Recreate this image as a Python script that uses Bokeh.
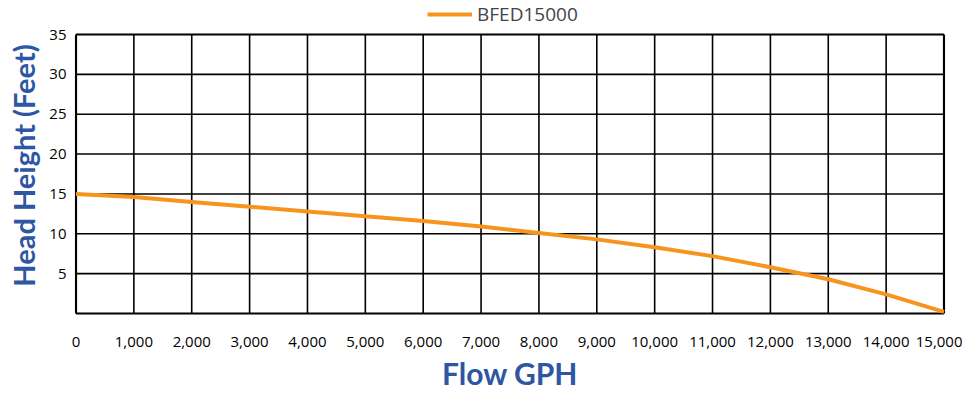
from bokeh.plotting import figure
from bokeh.models import FixedTicker, NumeralTickFormatter, Legend, LegendItem, Range1d
from bokeh.embed import file_html
from bokeh.resources import INLINE

flow = [0, 1000, 2000, 3000, 4000, 5000, 6000, 7000, 8000, 9000, 10000, 11000, 12000, 13000, 14000, 15000]
head = [15.0, 14.6, 14.0, 13.4, 12.8, 12.2, 11.6, 10.9, 10.1, 9.3, 8.3, 7.2, 5.8, 4.3, 2.4, 0.2]
series_name = "BFED15000"
x_title = "Flow GPH"
y_title = "Head Height (Feet)"
x_ticks = list(range(0, 15001, 1000))
y_ticks = [5, 10, 15, 20, 25, 30, 35]
x_min, x_max = 0, 15000
y_min, y_max = 0, 35

TITLE_COLOR = "#2E56A3"
LINE_COLOR = "#F7941D"

# data box is 868 x 279 px; the frame extends a little around it (legend room above)
PX_X = (x_max - x_min) / 868
PX_Y = (y_max - y_min) / 279

p = figure(frame_width=871, frame_height=326, output_backend="svg", toolbar_location=None,
           x_range=Range1d(x_min - 1.5 * PX_X, x_max + 1.5 * PX_X),
           y_range=Range1d(y_min - 15 * PX_Y, y_max + 32 * PX_Y),
           min_border_left=74, min_border_right=17, min_border_top=2, min_border_bottom=60)
p.outline_line_color = None
p.xgrid.visible = False
p.ygrid.visible = False

# grid box drawn from tick values
inner_x = x_ticks[1:-1]
inner_y = y_ticks[:-1]
edge_x = [x_min, x_max]
edge_y = [y_min, y_max]
p.segment(x0=inner_x, y0=[y_min] * len(inner_x), x1=inner_x, y1=[y_max] * len(inner_x),
          line_color="black", line_width=1.6)
p.segment(x0=[x_min] * len(inner_y), y0=inner_y, x1=[x_max] * len(inner_y), y1=inner_y,
          line_color="black", line_width=1.6)
p.segment(x0=edge_x, y0=[y_min] * 2, x1=edge_x, y1=[y_max] * 2, line_color="black", line_width=2.2)
p.segment(x0=[x_min] * 2, y0=edge_y, x1=[x_max] * 2, y1=edge_y, line_color="black", line_width=2.2)

r = p.line(flow, head, line_color=LINE_COLOR, line_width=4)

p.xaxis.ticker = FixedTicker(ticks=x_ticks)
p.yaxis.ticker = FixedTicker(ticks=y_ticks)
p.xaxis.formatter = NumeralTickFormatter(format="0,0")

for ax in (p.xaxis, p.yaxis):
    ax.major_tick_line_color = None
    ax.minor_tick_line_color = None
    ax.major_tick_out = 0
    ax.major_tick_in = 0
    ax.minor_tick_out = 0
    ax.minor_tick_in = 0
    ax.axis_line_color = None
    ax.major_label_text_font = "Open Sans"
    ax.major_label_text_font_size = "15px"
    ax.major_label_text_color = "black"
    ax.axis_label_text_font = "Lato"
    ax.axis_label_text_font_style = "bold"
    ax.axis_label_text_color = TITLE_COLOR

p.xaxis.major_label_standoff = 8
p.yaxis.major_label_standoff = 8

p.xaxis.axis_label = x_title
p.xaxis.axis_label_text_font_size = "30px"
p.xaxis.axis_label_standoff = 5

p.yaxis.axis_label = y_title
p.yaxis.axis_label_text_font_size = "29px"
p.yaxis.axis_label_standoff = 5

legend = Legend(items=[LegendItem(label=series_name, renderers=[r])],
                orientation="horizontal", location=(353, 301),
                border_line_color=None, background_fill_alpha=0,
                label_text_font="Open Sans", label_text_font_size="19px",
                glyph_width=45, label_standoff=5, padding=0, margin=0)
p.add_layout(legend, "center")

open("out.html", "w").write(file_html(p, INLINE))
